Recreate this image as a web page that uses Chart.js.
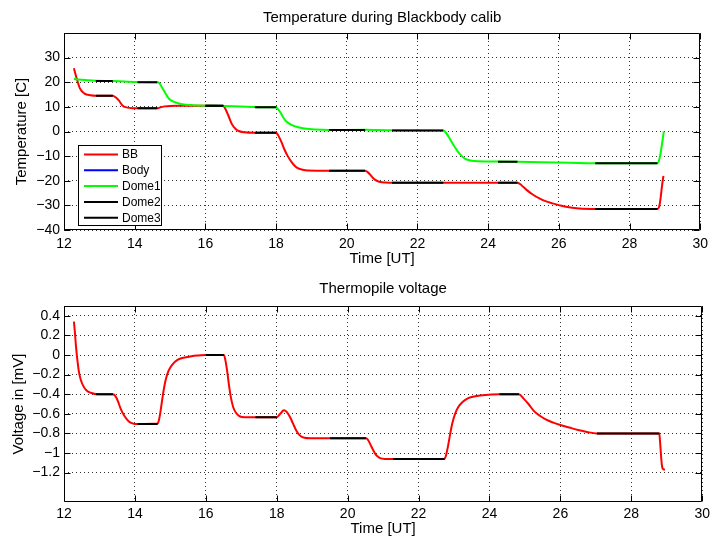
<!DOCTYPE html>
<html><head><meta charset="utf-8">
<script src="https://cdn.jsdelivr.net/npm/chart.js@4"></script>
<style>
html,body{margin:0;padding:0;background:#fff;}
canvas{position:absolute;left:0;}
#c1{top:0;} #c2{top:270px;}
</style></head><body>
<canvas id="c1" width="714" height="270"></canvas>
<canvas id="c2" width="714" height="270"></canvas>
<script>
// ---------- data ----------
const xTicks = [12,14,16,18,20,22,24,26,28,30];
const tempTicks = [-40,-30,-20,-10,0,10,20,30];
const voltTicks = [-1.2,-1,-0.8,-0.6,-0.4,-0.2,0,0.2,0.4];

const bbTime = [12.28,12.36,12.45,12.58,12.75,12.9,13.38,13.46,13.55,13.66,13.8,13.95,14.08,14.64,14.72,14.85,15.0,15.25,15.6,16.0,16.51,16.56,16.65,16.75,16.85,16.94,17.1,17.4,18.0,18.05,18.15,18.24,18.33,18.43,18.52,18.6,18.75,18.9,19.5,20.52,20.6,20.68,20.75,20.85,20.95,21.1,21.28,22.73,24.28,24.83,24.95,25.07,25.25,25.45,25.62,25.82,26.0,26.2,26.57,27.03,28.79,28.84,28.88,28.92,28.96];
const bbTemp = [25.7,21.5,17.5,15.4,14.7,14.5,14.5,13.9,12.6,10.5,9.7,9.45,9.4,9.4,9.8,10.2,10.4,10.45,10.5,10.5,10.4,9.3,6.5,3,1.1,0.2,-0.3,-0.5,-0.5,-1.3,-4.2,-7.4,-10,-12.2,-13.8,-14.8,-15.5,-15.8,-15.9,-15.9,-16.6,-17.8,-19,-20,-20.5,-20.7,-20.8,-20.8,-20.8,-20.8,-21.9,-23.5,-25.5,-27.2,-28.3,-29.2,-29.9,-30.6,-31.3,-31.5,-31.5,-30.5,-27,-22,-18];

const bodyTime = [];
const bodyTemp = [];

const dome1Time = [12.28,12.6,12.9,13.38,13.7,14.08,14.64,14.7,14.76,14.83,14.9,14.97,15.1,15.25,15.45,15.63,16.0,16.51,17.0,17.4,18.0,18.05,18.12,18.2,18.28,18.36,18.45,18.6,18.8,19.1,19.5,20.52,21.28,22.73,22.8,22.9,22.98,23.08,23.17,23.27,23.35,23.5,23.73,24.28,24.83,25.5,26.3,27.03,28.79,28.83,28.87,28.91,28.95,28.97];
const dome1Temp = [21.3,20.9,20.6,20.5,20.3,20.1,20.0,19.6,18.2,16.5,14.8,13.3,12.1,11.4,10.9,10.7,10.5,10.4,10.2,9.9,9.8,9.2,7.8,5.8,4.2,3.3,2.6,1.8,1.2,0.8,0.6,0.7,0.5,0.4,-0.4,-2.5,-4.6,-6.8,-8.7,-10.2,-11.1,-11.8,-12.1,-12.2,-12.3,-12.5,-12.7,-12.9,-12.9,-12,-9.5,-6,-2,0];

// stable periods (start / end, UT)
const stableStart = [12.9,14.08,16.0,17.4,19.5,21.28,24.28,27.03];
const stableEnd   = [13.38,14.64,16.51,18.0,20.52,22.73,24.83,28.79];
const dome2Level = [20.55,20.05,10.45,9.85,0.65,0.45,-12.25,-12.9];
const dome3Level = [14.5,9.4,10.45,-0.5,-15.9,-20.8,-20.8,-31.5];

const voltTime = [12.28,12.31,12.34,12.38,12.42,12.47,12.55,12.63,12.75,12.96,13.38,13.45,13.52,13.6,13.7,13.82,13.95,14.08,14.64,14.68,14.72,14.76,14.81,14.87,14.95,15.05,15.2,15.4,15.6,15.8,16.0,16.51,16.55,16.6,16.65,16.7,16.77,16.85,16.95,17.1,17.4,18.0,18.1,18.2,18.28,18.37,18.46,18.55,18.65,18.78,18.95,19.5,20.52,20.58,20.65,20.72,20.8,20.9,21.05,21.28,22.73,22.77,22.82,22.88,22.95,23.03,23.12,23.24,23.4,23.6,23.8,24.28,24.83,24.95,25.1,25.25,25.42,25.6,25.8,26.0,26.25,26.5,26.75,27.03,28.79,28.81,28.83,28.85,28.87,28.9,28.95];
const voltVal = [0.34,0.22,0.08,-0.06,-0.17,-0.25,-0.32,-0.36,-0.385,-0.4,-0.4,-0.42,-0.47,-0.55,-0.62,-0.675,-0.7,-0.705,-0.7,-0.66,-0.58,-0.48,-0.36,-0.25,-0.16,-0.1,-0.05,-0.025,-0.012,-0.005,0,0,-0.05,-0.16,-0.3,-0.42,-0.53,-0.59,-0.625,-0.635,-0.635,-0.635,-0.6,-0.565,-0.58,-0.63,-0.7,-0.77,-0.82,-0.845,-0.85,-0.85,-0.85,-0.87,-0.92,-0.97,-1.02,-1.05,-1.06,-1.06,-1.06,-1.03,-0.95,-0.83,-0.7,-0.6,-0.53,-0.48,-0.44,-0.42,-0.41,-0.4,-0.4,-0.44,-0.5,-0.57,-0.62,-0.66,-0.69,-0.715,-0.74,-0.765,-0.785,-0.8,-0.8,-0.88,-0.98,-1.08,-1.14,-1.165,-1.17];
const voltStableLevel = [-0.4,-0.703,0,-0.635,-0.85,-1.06,-0.4,-0.8];

// ---------- helpers ----------
Chart.defaults.font.family = '"Liberation Sans", Arial, Helvetica, sans-serif';
Chart.defaults.color = '#000';

function pts(t, v){ return t.map((x,i)=>({x:x, y:v[i]})); }
function segs(starts, ends, levels){
  const out = [];
  starts.forEach((s,i)=>{
    out.push({x:s, y:levels[i]}, {x:ends[i], y:levels[i]}, {x:ends[i]+0.001, y:null});
  });
  return out;
}
function fmt(v){
  const r = Math.round(v*1000)/1000;
  return r < 0 ? '\u2212' + Math.abs(r) : String(r);
}

const framePlugin = {
  id: 'frame',
  afterDraw(chart, args, o){
    const ctx = chart.ctx, a = chart.chartArea;
    const L = Math.round(a.left)+0.5, R = Math.round(a.right)-0.5,
          T = Math.round(a.top)+0.5, B = Math.round(a.bottom)-0.5;
    ctx.save();
    ctx.strokeStyle = '#000'; ctx.lineWidth = 1;
    ctx.beginPath(); ctx.rect(L, T, R-L, B-T); ctx.stroke();
    const tl = 6;
    const xs = chart.scales.x, ys = chart.scales.y;
    ctx.beginPath();
    xs.ticks.forEach(t=>{
      const p = Math.round(xs.getPixelForValue(t.value))+0.5;
      ctx.moveTo(p, B); ctx.lineTo(p, B-tl);
      ctx.moveTo(p, T); ctx.lineTo(p, T+tl);
    });
    ys.ticks.forEach(t=>{
      const p = Math.round(ys.getPixelForValue(t.value))+0.5;
      ctx.moveTo(L, p); ctx.lineTo(L+tl, p);
      ctx.moveTo(R, p); ctx.lineTo(R-tl, p);
    });
    ctx.stroke();
    // title
    ctx.fillStyle = '#000';
    ctx.font = '15px "Liberation Sans", Arial, sans-serif';
    ctx.textAlign = 'center'; ctx.textBaseline = 'middle';
    ctx.fillText(o.title, (a.left+a.right)/2, o.titleY);
    // legend
    if (o.legend){
      const bx = a.left + 14, by = a.top + 112, bw = 83, bh = 80;
      ctx.fillStyle = '#fff';
      ctx.fillRect(bx, by, bw, bh);
      ctx.strokeStyle = '#000';
      ctx.strokeRect(bx+0.5, by+0.5, bw, bh);
      ctx.font = '12px "Liberation Sans", Arial, sans-serif';
      ctx.textAlign = 'left';
      chart.data.datasets.forEach((d,i)=>{
        const y = by + 9.5 + i*15.8;
        ctx.strokeStyle = d.borderColor; ctx.lineWidth = 2;
        ctx.beginPath(); ctx.moveTo(bx+6, y); ctx.lineTo(bx+40, y); ctx.stroke();
        ctx.fillStyle = '#000';
        ctx.fillText(d.label, bx+44, y+0.5);
      });
    }
    ctx.restore();
  }
};

function scales(cfg){
  return {
    x: {
      type: 'linear', min: 12, max: 30,
      afterBuildTicks: s => { s.ticks = xTicks.map(v=>({value:v})); },
      afterFit: s => { s.height = cfg.xHeight; },
      grid: { color: '#333', lineWidth: 1, drawTicks: false },
      border: { display: false, dash: [1,3] },
      ticks: { font: {size: 14}, padding: cfg.xPad, maxRotation: 0, autoSkip: false, callback: v => fmt(v) },
      title: { display: true, text: 'Time [UT]', font: {size: 15}, padding: {top: 0, bottom: 0} }
    },
    y: {
      type: 'linear', min: cfg.yMin, max: cfg.yMax,
      afterBuildTicks: s => { s.ticks = cfg.yTicks.map(v=>({value:v})); },
      afterFit: s => { s.width = 64; },
      grid: { color: '#333', lineWidth: 1, drawTicks: false },
      border: { display: false, dash: [1,3] },
      ticks: { font: {size: 14}, padding: 4, autoSkip: false, callback: v => fmt(v) },
      title: { display: true, text: cfg.yTitle, font: {size: 15}, padding: {top: cfg.yTitlePad, bottom: 0} }
    }
  };
}

const lineBase = { pointRadius: 0, borderWidth: 2, fill: false, cubicInterpolationMode: 'monotone', spanGaps: false };

new Chart(document.getElementById('c1'), {
  type: 'line',
  data: {
    datasets: [
      Object.assign({ label: 'BB', data: pts(bbTime, bbTemp), borderColor: '#ff0000', order: 4 }, lineBase),
      Object.assign({ label: 'Body', data: pts(bodyTime, bodyTemp), borderColor: '#0000ff', order: 3 }, lineBase),
      Object.assign({ label: 'Dome1', data: pts(dome1Time, dome1Temp), borderColor: '#00ff00', order: 2 }, lineBase),
      Object.assign({ label: 'Dome2', data: segs(stableStart, stableEnd, dome2Level), borderColor: '#000000', order: 1 }, lineBase),
      Object.assign({ label: 'Dome3', data: segs(stableStart, stableEnd, dome3Level), borderColor: '#000000', order: 0 }, lineBase)
    ]
  },
  options: {
    responsive: false, animation: false, devicePixelRatio: 1,
    layout: { padding: { top: 33, left: 0, right: 8, bottom: 2 } },
    plugins: { legend: { display: false }, tooltip: { enabled: false },
      frame: { title: 'Temperature during Blackbody calib', titleY: 18, legend: true } },
    scales: scales({ yMin: -40, yMax: 40, yTicks: tempTicks, yTitle: 'Temperature [C]', yTitlePad: 13, xHeight: 38, xPad: 6 })
  },
  plugins: [framePlugin]
});

new Chart(document.getElementById('c2'), {
  type: 'line',
  data: {
    datasets: [
      Object.assign({ label: 'Thermopile', data: pts(voltTime, voltVal), borderColor: '#ff0000', order: 1 }, lineBase),
      Object.assign({ label: 'Stable', data: segs(stableStart, stableEnd, voltStableLevel), borderColor: '#000000', order: 0 }, lineBase)
    ]
  },
  options: {
    responsive: false, animation: false, devicePixelRatio: 1,
    layout: { padding: { top: 36, left: 0, right: 8, bottom: 2 } },
    plugins: { legend: { display: false }, tooltip: { enabled: false },
      frame: { title: 'Thermopile voltage', titleY: 19, legend: false } },
    scales: scales({ yMin: -1.5, yMax: 0.5, yTicks: voltTicks, yTitle: 'Voltage in [mV]', yTitlePad: 10, xHeight: 36, xPad: 4 })
  },
  plugins: [framePlugin]
});
</script>
</body></html>
